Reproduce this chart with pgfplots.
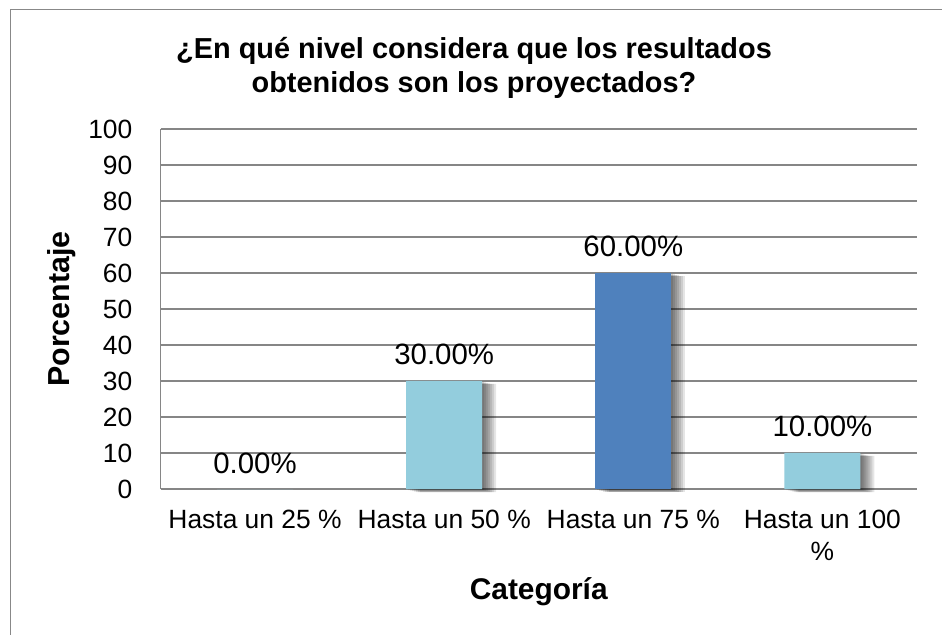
\documentclass[border=0pt]{standalone}
\usepackage{fontspec}
\setmainfont{Liberation Sans}
\usepackage{pgfplots}
\pgfplotsset{compat=1.18}

\definecolor{barlight}{RGB}{147,205,221}
\definecolor{bardark}{RGB}{79,129,189}
\definecolor{gridgray}{RGB}{134,134,134}
\definecolor{framegray}{RGB}{136,136,136}

\pgfplotsset{
  shadowbar/.style={fill=black, draw=none, fill opacity=0.1, forget plot, nodes near coords={}},
}

\begin{document}
\begin{tikzpicture}
  \useasboundingbox[fill=white] (0,0) rectangle (942bp,635bp);
  % outer chart frame
  \draw[framegray, line width=1.6bp] (10.5bp,0) -- (10.5bp,625.5bp) -- (942bp,625.5bp);

  % title (anchored on the baseline of its second line)
  \node[align=center, anchor=base, font=\fontsize{29}{35}\selectfont\bfseries]
    at (474bp,542bp) {¿En qué nivel considera que los resultados\\obtenidos son los proyectados?};

  \begin{axis}[
    at={(160.5bp,146bp)}, anchor=south west,
    scale only axis, width=756.5bp, height=360bp,
    xmin=-0.5, xmax=3.5, ymin=0, ymax=100,
    ytick={0,10,...,100},
    xtick={0,1,2,3},
    xticklabels={Hasta un 25 \%, Hasta un 50 \%, Hasta un 75 \%, {Hasta un 100\\\%}},
    axis x line*=bottom, axis y line*=left,
    axis line style={gridgray, line width=1.4bp, -},
    major tick length=0pt,
    ymajorgrids, grid style={gridgray, line width=1.4bp},
    /pgf/number format/assume math mode=true,
    yticklabel style={font=\fontsize{26.5}{31}\selectfont, anchor=east, inner sep=0pt, xshift=-28bp},
    xticklabel style={font=\fontsize{26.5}{31.5}\selectfont, align=center, anchor=north, inner sep=0pt, yshift=-21bp},
    ylabel={Porcentaje}, xlabel={Categoría},
    ylabel style={font=\fontsize{30.5}{36}\selectfont\bfseries, at={(axis description cs:-0.1302,0.5)}, anchor=center},
    xlabel style={font=\fontsize{30}{36}\selectfont\bfseries, at={(axis description cs:0.5,-0.2861)}, anchor=center},
    ybar, bar width=76bp, bar shift=0pt,
    clip=false,
    nodes near coords={\pgfmathprintnumber[fixed,fixed zerofill,precision=2]{\pgfplotspointmeta}\%},
    every node near coord/.append style={font=\fontsize{29.5}{35}\selectfont, anchor=base, inner sep=0pt, yshift=16bp, black},
  ]
    % soft drop shadows behind the bars
    \addplot[shadowbar, xshift=2bp, yshift=-1bp] coordinates {(1,30) (3,10)};
    \addplot[shadowbar, xshift=4bp, yshift=-1.5bp] coordinates {(1,30) (3,10)};
    \addplot[shadowbar, xshift=6bp, yshift=-2bp] coordinates {(1,30) (3,10)};
    \addplot[shadowbar, xshift=8bp, yshift=-2.5bp] coordinates {(1,30) (3,10)};
    \addplot[shadowbar, xshift=10bp, yshift=-3bp] coordinates {(1,30) (3,10)};
    \addplot[shadowbar, xshift=12bp, yshift=-3bp] coordinates {(1,30) (3,10)};
    \addplot[shadowbar, xshift=14bp, yshift=-3bp] coordinates {(1,30) (3,10)};
    \addplot[shadowbar, xshift=2bp, yshift=-1bp] coordinates {(2,60)};
    \addplot[shadowbar, xshift=4bp, yshift=-1.5bp] coordinates {(2,60)};
    \addplot[shadowbar, xshift=6bp, yshift=-2bp] coordinates {(2,60)};
    \addplot[shadowbar, xshift=8bp, yshift=-2.5bp] coordinates {(2,60)};
    \addplot[shadowbar, xshift=10bp, yshift=-3bp] coordinates {(2,60)};
    \addplot[shadowbar, xshift=12bp, yshift=-3bp] coordinates {(2,60)};
    \addplot[shadowbar, xshift=14bp, yshift=-3bp] coordinates {(2,60)};

    % bars
    \addplot[fill=barlight, draw=none] coordinates {(0,0) (1,30) (3,10)};
    \addplot[fill=bardark, draw=none] coordinates {(2,60)};
  \end{axis}
\end{tikzpicture}
\end{document}
